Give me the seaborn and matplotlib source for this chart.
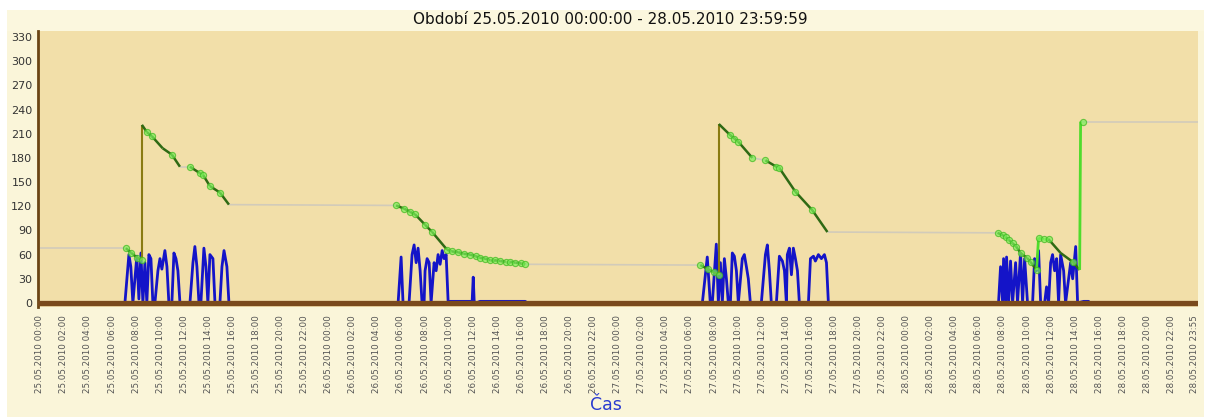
import pandas as pd
import seaborn as sns
import matplotlib
matplotlib.use("Agg")
import matplotlib.pyplot as plt
from matplotlib.patches import Rectangle

sns.set_style("white")
plt.rcParams['font.family'] = ['DejaVu Sans']

# rychlost (modrá) - hodiny od 25.05.2010 00:00
speed_h = [0.0,
           7.07, 7.40, 7.56, 7.73, 8.06, 8.23, 8.40, 8.56, 8.73, 8.89,
           9.06, 9.23, 9.39, 9.56, 9.81, 9.98, 10.14, 10.39, 10.56, 10.72,
           10.97, 11.14, 11.31, 11.47, 11.64, 12.47, 12.72, 12.88, 13.05, 13.22,
           13.38, 13.63, 13.80, 13.96, 14.13, 14.38, 14.55, 14.96, 15.13, 15.30,
           15.54, 15.71,
           29.76, 30.01, 30.17, 30.67, 30.92, 31.09, 31.26, 31.42, 31.59, 31.75,
           31.92, 32.00, 32.17, 32.34, 32.50, 32.75, 32.92, 33.08, 33.25, 33.42,
           33.58, 33.75, 33.92, 34.08, 35.91, 36.00, 36.08, 36.24, 36.57, 40.32,
           40.48,
           55.03, 55.44, 55.69, 55.86, 56.19, 56.36, 56.53, 56.69, 56.86, 57.03,
           57.19, 57.36, 57.52, 57.69, 57.86, 58.02, 58.35, 58.52, 58.69, 58.85,
           59.02, 59.93, 60.27, 60.43, 60.60, 60.76, 61.18, 61.43, 61.68, 61.85,
           62.01, 62.09, 62.26, 62.43, 62.59, 62.76, 62.93, 63.09, 63.84, 64.01,
           64.26, 64.42, 64.67, 64.92, 65.17, 65.34, 65.50,
           79.63, 79.80, 79.97, 80.05, 80.22, 80.30, 80.47, 80.63, 80.80, 81.05,
           81.21, 81.46, 81.63, 81.80, 82.04, 82.46, 82.63, 82.79, 82.96, 83.13,
           83.46, 83.62, 83.79, 83.96, 84.12, 84.29, 84.46, 84.62, 84.79, 85.04,
           85.20, 85.62, 85.79, 86.04, 86.20, 86.70, 87.11, 87.20,
           96.2]
speed_v = [0,
           0, 60, 45, 0, 58, 5, 62, 0, 50, 0,
           60, 55, 0, 0, 40, 55, 42, 65, 45, 0,
           0, 62, 55, 40, 0, 0, 50, 70, 45, 0,
           0, 68, 45, 0, 60, 55, 0, 0, 45, 65,
           45, 0,
           0, 57, 0, 0, 60, 72, 50, 68, 40, 0,
           0, 40, 55, 50, 0, 50, 40, 60, 48, 65,
           55, 60, 0, 2, 2, 32, 2, 0, 2, 2,
           0,
           0, 57, 0, 0, 73, 0, 50, 0, 55, 30,
           0, 0, 62, 58, 40, 0, 55, 60, 45, 30,
           0, 0, 60, 72, 40, 0, 0, 58, 52, 40,
           0, 60, 68, 35, 68, 55, 40, 0, 0, 55,
           58, 52, 60, 55, 60, 50, 0,
           0, 45, 0, 55, 0, 57, 0, 52, 0, 50,
           0, 62, 0, 55, 0, 0, 55, 40, 65, 0,
           0, 20, 0, 50, 60, 40, 55, 0, 60, 40,
           0, 50, 30, 70, 0, 2, 2, 0,
           0]

# hladina paliva
fuel_h = [0.0, 7.15, 7.6, 8.1, 8.48, 8.48, 8.89, 9.3, 10.2, 10.97, 11.64, 12.47, 13.30, 13.55, 14.13, 14.96, 15.71,
          29.59, 30.26, 30.76, 31.17, 32.00, 32.59, 33.83, 34.2, 34.75, 35.2, 35.74, 36.2, 36.57, 37.0, 37.41,
          37.8, 38.24, 38.7, 39.07, 39.5, 40.0, 40.32,
          54.86, 55.5, 56.0, 56.4, 56.4, 57.36, 57.7, 58.02, 59.18, 60.27, 61.18, 61.4, 62.76, 64.17, 65.42,
          79.55, 80.0, 80.22, 80.5, 80.8, 81.1, 81.46, 82.0, 82.29, 82.79, 82.96, 83.4, 83.79, 84.79, 85.79,
          86.37, 86.45, 86.62, 96.2]
fuel_v = [68, 68, 62, 56, 53, 221, 212, 207, 192, 184, 169, 169, 161, 159, 145, 137, 122,
          121, 117, 113, 110, 97, 88, 66, 64, 63, 61, 60, 58, 56, 55, 53,
          53, 52, 51, 51, 50, 49, 48,
          47, 42, 38, 35, 222, 208, 204, 200, 180, 177, 169, 168, 138, 115, 88,
          87, 84, 82, 78, 74, 70, 62, 56, 51, 41, 81, 79, 79, 62, 51,
          41, 225, 225, 225]
# druh úseku začínajícího v bodě: g = bez dat, t = jízda, r = tankování, j = skok
fuel_kind = ("gtttrtttttgtttttg"
             "tttttttttttttttttttttg"
             "tttrttttgtttttg"
             "tttttttttjjjtttjggg")
fuel_dot = ("01111011010111110"
            "1111111111111111111111"
            "111101111111110"
            "1111111111111010010")

tick_labels = list(pd.date_range("2010-05-25 00:00", periods=48, freq="2h").strftime("%d.%m.%Y %H:%M"))
tick_labels.append("28.05.2010 23:55")
tick_pos = [2 * i for i in range(48)] + [95.917]

kind_style = {
    "g": dict(color="#d2cbba", lw=1.2, zorder=2),
    "t": dict(color="#2f6a14", lw=1.8, zorder=4),
    "r": dict(color="#8a7b12", lw=1.5, zorder=4),
    "j": dict(color="#4fdc2c", lw=2.0, zorder=4),
}

fig = plt.figure(figsize=(12.06, 4.17), dpi=100)
fig.patch.set_facecolor("white")
fig.patches.append(Rectangle((7 / 1206, 0), 1197 / 1206, 407 / 417, transform=fig.transFigure,
                             facecolor="#faf5d9", edgecolor="none", zorder=-2))
fig.patches.append(Rectangle((7 / 1206, 386 / 417), 1197 / 1206, 21 / 417, transform=fig.transFigure,
                             facecolor="#fbf7de", edgecolor="none", zorder=-1))
ax = fig.add_axes([38 / 1206, 110 / 417, 1160 / 1206, 276 / 417])
ax.set_zorder(5)
ax.set_facecolor("#f2dfa9")

sns.lineplot(x=speed_h, y=speed_v, ax=ax, color="#1414c8", linewidth=2.0,
             estimator=None, sort=False, zorder=3)

for i in range(len(fuel_h) - 1):
    ax.plot(fuel_h[i:i + 2], fuel_v[i:i + 2], solid_capstyle="butt", **kind_style[fuel_kind[i]])

dots = pd.DataFrame({"h": fuel_h, "v": fuel_v, "dot": [c == "1" for c in fuel_dot]})
dots = dots[dots["dot"]]
sns.scatterplot(data=dots, x="h", y="v", ax=ax, s=20, color="#7cf05a", alpha=0.7,
                edgecolor="#3cb81e", linewidth=0.8, zorder=5)

ax.axhline(0, color="#7a4a1c", lw=3.8, zorder=6)

ax.set_xlim(-0.15, 96.2)
ax.set_ylim(-5, 337.4)
ax.set_yticks(range(0, 331, 30))
ax.set_xticks(tick_pos)
ax.set_xticklabels(tick_labels, rotation=90, fontsize=6.3, color="#555555")
ax.tick_params(axis="x", length=0, pad=6)
ax.tick_params(axis="y", length=3, width=1, colors="#555555", labelsize=8, pad=1)
for lab in ax.get_yticklabels():
    lab.set_color("#333333")
for s in ["top", "right", "bottom"]:
    ax.spines[s].set_visible(False)
ax.spines["left"].set_color("#6b4515")
ax.spines["left"].set_linewidth(2)
ax.set_xlabel("")
ax.set_ylabel("")

fig.text(610 / 1206, 398 / 417, "Období 25.05.2010 00:00:00 - 28.05.2010 23:59:59",
         ha="center", va="center", fontsize=11, color="#111111")
fig.text(606 / 1206, 12 / 417, "Čas", ha="center", va="center", fontsize=12.5, color="#2a3bd0")

fig.savefig("out.png", dpi=100, facecolor=fig.get_facecolor())
